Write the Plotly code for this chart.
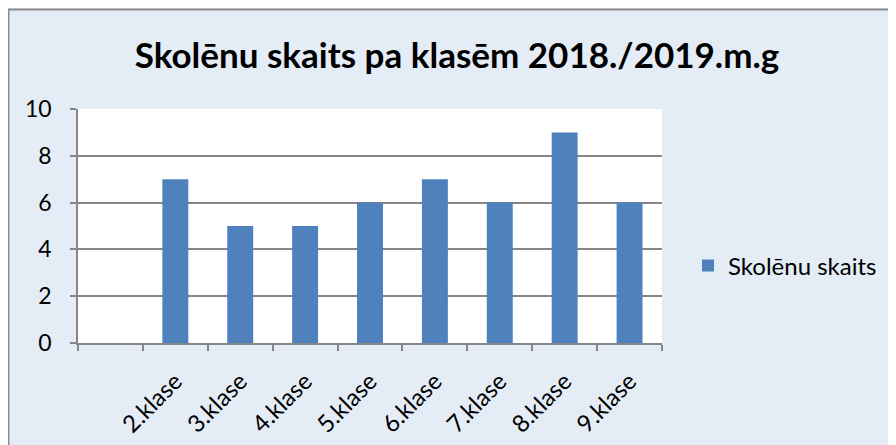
import plotly.graph_objects as go

categories = [" ", "2.klase", "3.klase", "4.klase", "5.klase", "6.klase", "7.klase", "8.klase", "9.klase"]
values = [None, 7, 5, 5, 6, 7, 6, 9, 6]
series_name = "Skolēnu skaits"
title_text = "Skolēnu skaits pa klasēm 2018./2019.m.g"
y_ticks = [0, 2, 4, 6, 8, 10]

OFF = 8  # page body margin
W, H = 896 - OFF, 445 - OFF
# plot area in page pixels
L, R, T, B = 78 - OFF, 662 - OFF, 109 - OFF, 343 - OFF
pw, ph = R - L, B - T

def px_x(x):
    return (x - OFF - L) / pw

def px_y(y):
    return (B - (y - OFF)) / ph

fig = go.Figure()
fig.add_trace(go.Bar(
    x=categories, y=values, name=series_name,
    marker=dict(color="#4F81BD", line=dict(width=0)),
    width=0.4,
))

font = "Lato, 'Open Sans', sans-serif"
fig.update_layout(
    width=W, height=H,
    margin=dict(l=L, r=W - R, t=T, b=H - B, autoexpand=False),
    paper_bgcolor="#E4ECF6",
    plot_bgcolor="#FFFFFF",
    font=dict(family=font, color="#000000", size=23),
    showlegend=True,
    title=dict(text="<b>" + title_text + "</b>", x=px_x(457), xanchor="center",
               xref="paper",
               y=1 - (56 - OFF) / H, yanchor="middle",
               font=dict(family=font, size=35, color="#000000")),
    legend=dict(x=px_x(688), xanchor="left", y=px_y(266), yanchor="middle",
                bgcolor="rgba(0,0,0,0)", font=dict(size=24),
                itemwidth=30),
    bargap=0.6,
)
fig.update_xaxes(
    type="category", categoryorder="array", categoryarray=categories,
    tickson="boundaries", ticks="outside", ticklen=6, tickcolor="#868686", tickwidth=1.5,
    showline=True, linecolor="#868686", linewidth=1.5,
    showgrid=False, tickangle=-45, tickfont=dict(size=24),
    ticklabelstandoff=13, range=[-0.5, 8.5], automargin=False,
)
fig.update_yaxes(
    range=[0, 10], tickvals=y_ticks, ticks="outside", ticklen=6,
    tickcolor="#868686", tickwidth=1.5,
    showline=True, linecolor="#868686", linewidth=1.5,
    showgrid=True, gridcolor="#868686", gridwidth=1.5,
    zeroline=False, tickfont=dict(size=23), ticklabelstandoff=14, automargin=False,
)
# outer chart border (left and top visible)
fig.add_shape(type="rect", xref="paper", yref="paper",
              x0=px_x(8.5), x1=px_x(920), y0=px_y(470), y1=px_y(9.5),
              line=dict(color="#8C8C8C", width=2), fillcolor="rgba(0,0,0,0)", layer="below")

fig.write_html("out.html")
